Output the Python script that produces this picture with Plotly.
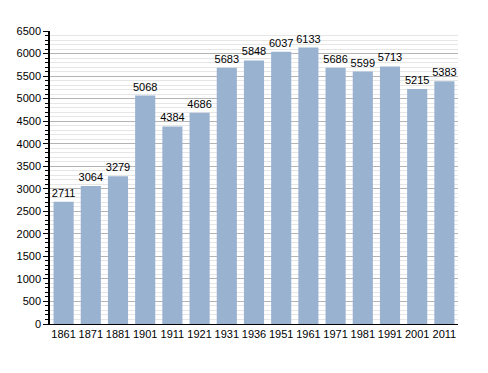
import plotly.graph_objects as go

years = ["1861", "1871", "1881", "1901", "1911", "1921", "1931", "1936", "1951", "1961", "1971", "1981", "1991", "2001", "2011"]
population = [2711, 3064, 3279, 5068, 4384, 4686, 5683, 5848, 6037, 6133, 5686, 5599, 5713, 5215, 5383]

fig = go.Figure(go.Bar(
    x=years, y=population,
    marker=dict(color="#98b2d0", line=dict(width=0)),
    text=[str(v) for v in population],
    textposition="outside",
    constraintext="none",
    textfont=dict(size=11, color="black", family="Liberation Sans, Arial"),
    cliponaxis=False,
))

fig.update_layout(
    width=488, height=373,
    margin=dict(l=42, r=38, t=23, b=57, autoexpand=False),
    paper_bgcolor="white", plot_bgcolor="white",
    bargap=0.26,
    showlegend=False,
    font=dict(family="Liberation Sans, Arial", size=11, color="#222"),
)
fig.update_xaxes(
    type="category",
    showline=True, linecolor="black", linewidth=1,
    ticks="", showgrid=False,
    tickfont=dict(size=11, color="black"),
)
fig.update_yaxes(
    range=[0, 6500],
    tickmode="linear", tick0=0, dtick=500,
    showline=True, linecolor="black", linewidth=1.5,
    ticks="outside", ticklen=5, tickcolor="black",
    showgrid=True, gridcolor="#b4b4b4", gridwidth=1,
    minor=dict(dtick=100, showgrid=True, gridcolor="#e6e6e6", ticks="outside", ticklen=3, tickcolor="black"),
    zeroline=False,
    tickfont=dict(size=11, color="black"),
)

fig.write_html("out.html")
